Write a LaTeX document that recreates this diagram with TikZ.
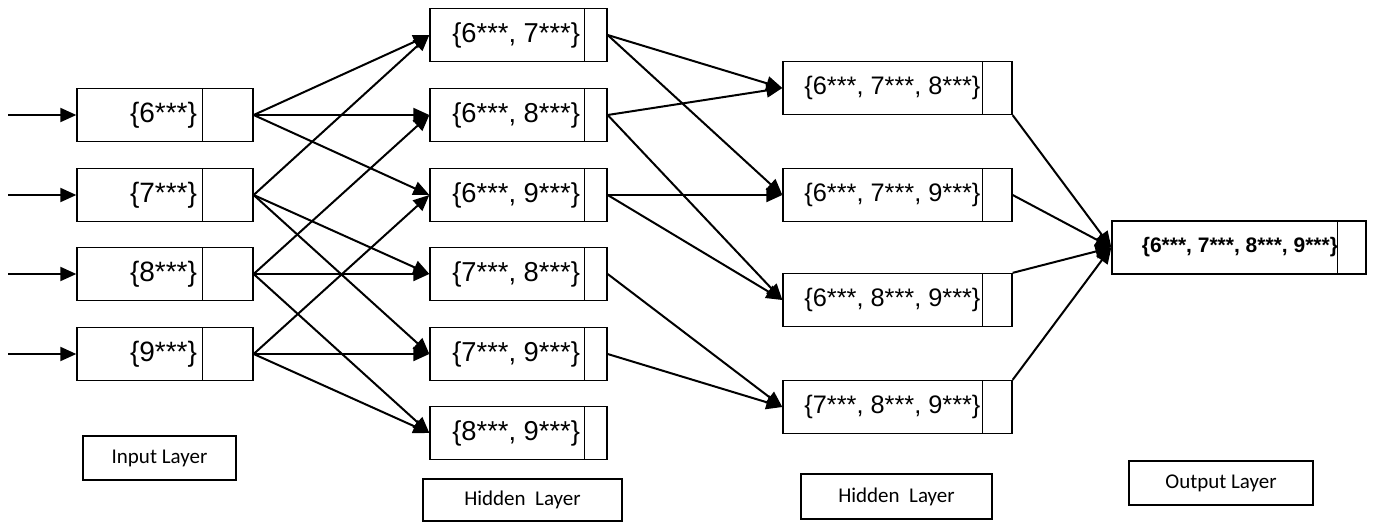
\documentclass[tikz,border=0pt]{standalone}
\usepackage{fontspec}
\setmainfont{Liberation Sans}
\newfontfamily\layerfont{Carlito}
\usetikzlibrary{arrows.meta}

\begin{document}
\begin{tikzpicture}[x=0.75pt,y=-0.75pt,
  setbox/.style n args={3}{rectangle,draw=black,line width=1pt,
              minimum width=#1,minimum height=39.75pt,inner sep=0pt,
              execute at begin node={\hbox to #3\bgroup\hss},
              execute at end node={\egroup},
              path picture={\draw[line width=0.75pt]
                ([xshift=-#2]path picture bounding box.north east) --
                ([xshift=-#2]path picture bounding box.south east);}},
  inbox/.style={setbox={132pt}{38.25pt}{48pt},
              font=\fontsize{21pt}{24pt}\selectfont},
  pairbox/.style={setbox={132.75pt}{17.25pt}{92.25pt},
              font=\fontsize{20.5pt}{24pt}\selectfont},
  tripbox/.style={setbox={171.75pt}{22.5pt}{124.5pt},
              font=\fontsize{19pt}{22pt}\selectfont},
  outbox/.style={setbox={190.5pt}{21.75pt}{148.5pt},
              font=\fontsize{15.75pt}{18pt}\selectfont\bfseries},
  layer/.style={rectangle,draw=black,line width=1.5pt,inner sep=0pt,
              font=\layerfont\fontsize{15.75pt}{18pt}\selectfont},
  arr/.style={-{Triangle[length=12pt,width=10.5pt]},line width=1.5pt}]
\useasboundingbox (0,0) rectangle (1373,521);
%%
%% Nodes
\node[inbox](in6) at (165,115) {\{6***\}};
\node[inbox](in7) at (165,195) {\{7***\}};
\node[inbox](in8) at (165,274) {\{8***\}};
\node[inbox](in9) at (165,354) {\{9***\}};
%%
\node[pairbox](h67) at (518.5, 35) {\{6***, 7***\}};
\node[pairbox](h68) at (518.5,115) {\{6***, 8***\}};
\node[pairbox](h69) at (518.5,195) {\{6***, 9***\}};
\node[pairbox](h78) at (518.5,274) {\{7***, 8***\}};
\node[pairbox](h79) at (518.5,354) {\{7***, 9***\}};
\node[pairbox](h89) at (518.5,433) {\{8***, 9***\}};
%%
\node[tripbox](g678) at (897.5, 88) {\{6***, 7***, 8***\}};
\node[tripbox](g679) at (897.5,195) {\{6***, 7***, 9***\}};
\node[tripbox](g689) at (897.5,300) {\{6***, 8***, 9***\}};
\node[tripbox](g789) at (897.5,407) {\{7***, 8***, 9***\}};
%%
\node[outbox](out) at (1239,247.5) {\{6***, 7***, 8***, 9***\}};
%%
%% Layer captions
\node[layer,minimum width=114.75pt,minimum height=33pt](lblin)  at (159.5,458) {Input Layer};
\node[layer,minimum width=149.25pt,minimum height=31.5pt](lblh1) at (522.5,500) {Hidden~~Layer};
\node[layer,minimum width=143.25pt,minimum height=33.75pt](lblh2) at (896.5,496.5) {Hidden~~Layer};
\node[layer,minimum width=138pt,minimum height=33pt](lblout) at (1221,483) {Output Layer};
%%
%% Inputs coming in from the left
\coordinate (src6) at (8,115);
\coordinate (src7) at (8,195);
\coordinate (src8) at (8,274);
\coordinate (src9) at (8,354);
\draw[arr](src6) -- (in6.west);
\draw[arr](src7) -- (in7.west);
\draw[arr](src8) -- (in8.west);
\draw[arr](src9) -- (in9.west);
%%
%% Input layer -> pairs
\draw[arr](in6.east) -- (h67.west);
\draw[arr](in6.east) -- (h68.west);
\draw[arr](in6.east) -- (h69.west);
\draw[arr](in7.east) -- (h67.west);
\draw[arr](in7.east) -- (h78.west);
\draw[arr](in7.east) -- (h79.west);
\draw[arr](in8.east) -- (h68.west);
\draw[arr](in8.east) -- (h78.west);
\draw[arr](in8.east) -- (h89.west);
\draw[arr](in9.east) -- (h69.west);
\draw[arr](in9.east) -- (h79.west);
\draw[arr](in9.east) -- (h89.west);
%%
%% Pairs -> triples
\draw[arr](h67.east) -- (g678.west);
\draw[arr](h67.east) -- (g679.west);
\draw[arr](h68.east) -- (g678.west);
\draw[arr](h68.east) -- (g689.west);
\draw[arr](h69.east) -- (g679.west);
\draw[arr](h69.east) -- (g689.west);
\draw[arr](h78.east) -- (g789.west);
\draw[arr](h79.east) -- (g789.west);
%%
%% Triples -> output
\draw[arr](g678.south east) -- (out.west);
\draw[arr](g679.east) -- (out.west);
\draw[arr](g689.north east) -- (out.west);
\draw[arr](g789.north east) -- (out.west);
\end{tikzpicture}
\end{document}
